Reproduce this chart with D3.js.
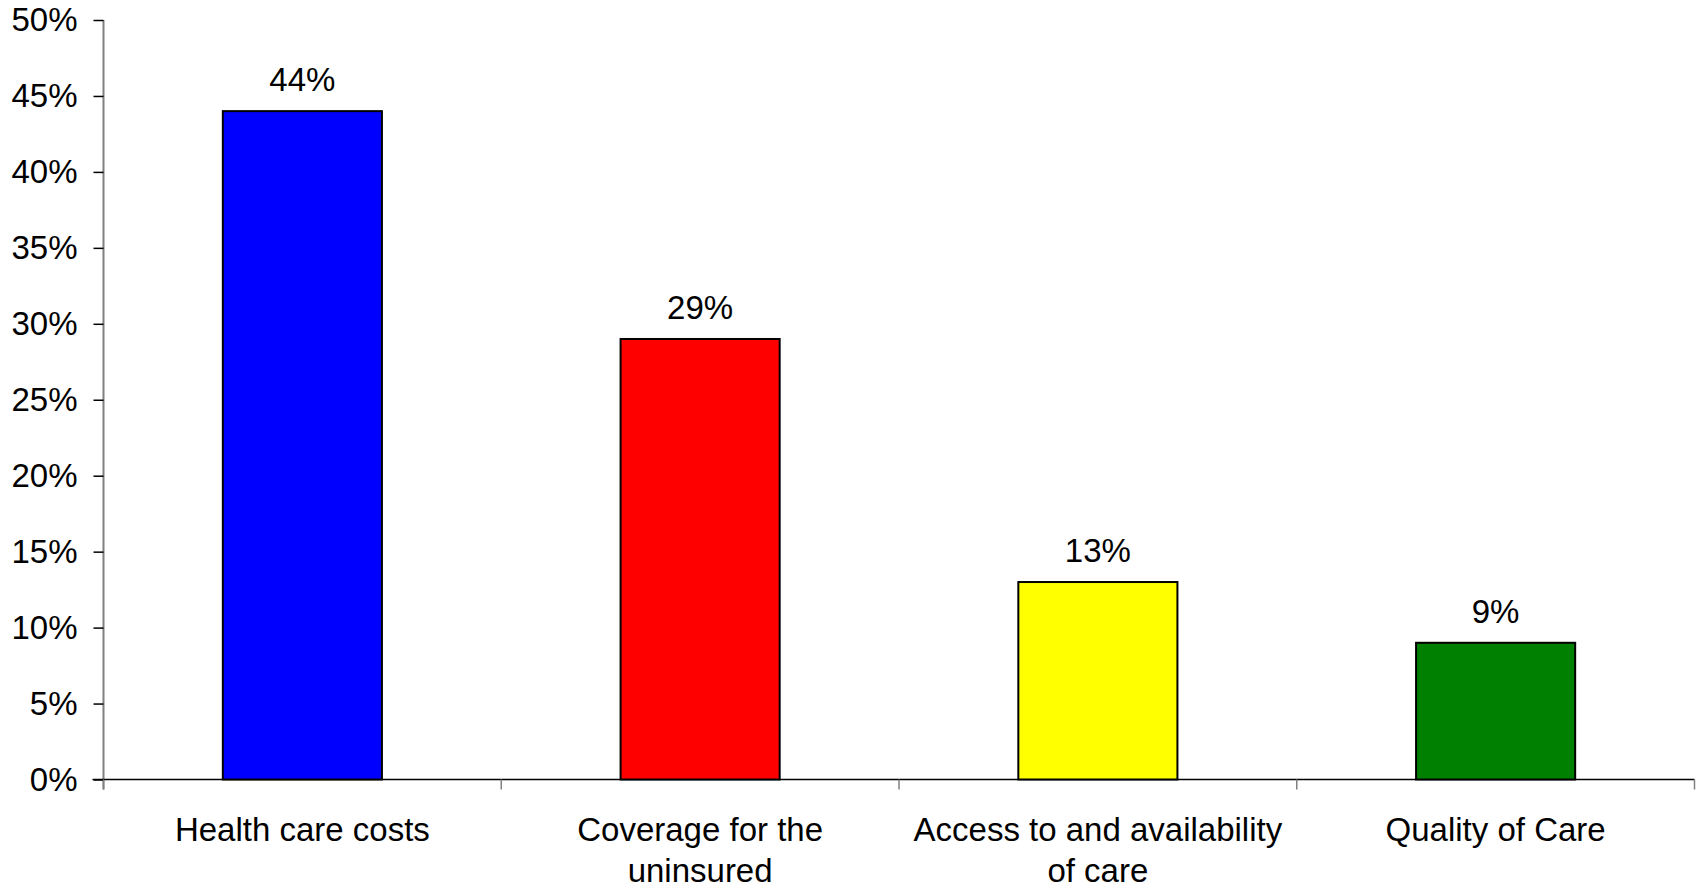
<!DOCTYPE html>
<html>
<head>
<meta charset="utf-8">
<script src="https://cdn.jsdelivr.net/npm/d3@7"></script>
<style>
  html, body { margin: 0; padding: 0; background: #fff; }
  svg { display: block; }
  text { font-family: "Liberation Sans", Arial, sans-serif; fill: #000; }
</style>
</head>
<body>
<svg id="chart" width="1700" height="889"></svg>
<script>
// Share of respondents naming each issue as most important
const categories = ["Health care costs", "Coverage for the uninsured", "Access to and availability of care", "Quality of Care"];
const categoryLines = [["Health care costs"], ["Coverage for the", "uninsured"], ["Access to and availability", "of care"], ["Quality of Care"]];
const values = [44, 29, 13, 9];
const barColors = ["#0000ff", "#ff0000", "#ffff00", "#008000"];
const yTicks = [0, 5, 10, 15, 20, 25, 30, 35, 40, 45, 50];

const svg = d3.select("#chart");
const plotLeft = 103.5, plotRight = 1694.5, plotTop = 20, plotBottom = 779.5;
const fontSize = 33;

const x = d3.scaleBand()
  .domain(categories)
  .range([plotLeft, plotRight])
  .paddingInner(0.6)
  .paddingOuter(0.3);

const y = d3.scaleLinear().domain([0, 50]).range([plotBottom, plotTop]);

const step = x.step();

// Y axis
const yAxis = svg.append("g")
  .attr("transform", `translate(${plotLeft},0)`)
  .call(d3.axisLeft(y).tickValues(yTicks).tickFormat(d => d + "%").tickSize(10).tickPadding(16));
yAxis.select(".domain").attr("stroke", "#808080").attr("stroke-width", 2).attr("d", `M0,${plotTop}V${plotBottom + 10}`);
yAxis.selectAll(".tick line").attr("stroke", "#000").attr("stroke-width", 1.5);
yAxis.selectAll(".tick text")
  .attr("font-size", fontSize)
  .attr("font-family", "'Liberation Sans', Arial, sans-serif")
  .attr("fill", "#000");

// X axis baseline with ticks at category boundaries
const xBoundary = i => plotLeft + i * step;

svg.append("line")
  .attr("x1", plotLeft - 11).attr("x2", plotRight)
  .attr("y1", plotBottom).attr("y2", plotBottom)
  .attr("stroke", "#000").attr("stroke-width", 1.5);

svg.selectAll(".xtick")
  .data(d3.range(categories.length + 1))
  .join("line")
  .attr("class", "xtick")
  .attr("x1", i => xBoundary(i)).attr("x2", i => xBoundary(i))
  .attr("y1", plotBottom).attr("y2", plotBottom + 10)
  .attr("stroke", "#808080").attr("stroke-width", 1.5);

// Bars
svg.selectAll(".bar")
  .data(categories)
  .join("rect")
  .attr("class", "bar")
  .attr("x", d => x(d))
  .attr("width", x.bandwidth())
  .attr("y", (d, i) => y(values[i]))
  .attr("height", (d, i) => plotBottom - y(values[i]))
  .attr("fill", (d, i) => barColors[i])
  .attr("stroke", "#000")
  .attr("stroke-width", 2);

// Value labels
svg.selectAll(".value")
  .data(categories)
  .join("text")
  .attr("class", "value")
  .attr("x", d => x(d) + x.bandwidth() / 2)
  .attr("y", (d, i) => y(values[i]) - 20)
  .attr("text-anchor", "middle")
  .attr("font-size", fontSize)
  .text((d, i) => values[i] + "%");

// Category labels
const catG = svg.selectAll(".cat")
  .data(categories)
  .join("text")
  .attr("class", "cat")
  .attr("text-anchor", "middle")
  .attr("font-size", fontSize);
catG.each(function(d, i) {
  const cx = x(d) + x.bandwidth() / 2;
  d3.select(this).selectAll("tspan")
    .data(categoryLines[i])
    .join("tspan")
    .attr("x", cx)
    .attr("y", (l, j) => 841 + j * 41)
    .text(l => l);
});
</script>
</body>
</html>
